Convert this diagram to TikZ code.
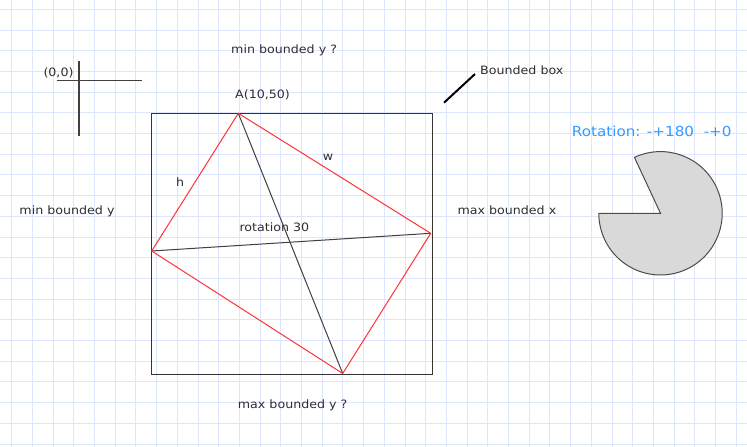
\documentclass[tikz,border=0pt]{standalone}
\usepackage{fontspec}
\setmainfont{DejaVu Sans}[FakeStretch=1.1]
\begin{document}
\begin{tikzpicture}[x=1pt,y=1pt,
  gridline/.style={draw={rgb,255:red,222;green,230;blue,255},line width=0.9pt},
  txt/.style={anchor=base west,inner sep=0pt,text=black!82,font=\fontsize{11.5}{13}\selectfont},
  bluetxt/.style={anchor=base west,inner sep=0pt,text={rgb,255:red,51;green,153;blue,255},font=\fontsize{13.8}{16}\selectfont},
  boxline/.style={draw=black!80,line width=1pt},
  redline/.style={draw={rgb,255:red,255;green,51;blue,51},line width=1pt},
  diagline/.style={draw=black!75,line width=1pt},
  axisline/.style={draw=black!75,line width=1.2pt},
  pacman/.style={draw=black!70,fill=black!15,line width=1pt}]
\useasboundingbox (0,0) rectangle (747,-447);
\fill[white] (0,0) rectangle (747,-447);
% grid
\foreach \i in {0,...,35} {\path[gridline] (11.7+20.7*\i,0) -- (11.7+20.7*\i,-447);}
\foreach \j in {0,...,21} {\path[gridline] (0,-9.3-20.7*\j) -- (747,-9.3-20.7*\j);}
% origin axes
\coordinate (vt) at (79,-61);
\coordinate (vb) at (79,-136);
\coordinate (hl) at (56.7,-80.7);
\coordinate (hr) at (141.7,-80.7);
\path[axisline] (vt) -- (vb);
\path[axisline] (hl) -- (hr);
% bounding rectangle
\coordinate (r1) at (151.5,-113.5);
\coordinate (r2) at (432.5,-374.5);
\path[boxline] (r1) rectangle (r2);
% rotated quad vertices
\coordinate (A) at (238.3,-113.3);
\coordinate (B) at (430.7,-233.3);
\coordinate (C) at (342.7,-373.5);
\coordinate (D) at (151.7,-251);
\path[diagline] (A) -- (C);
\path[diagline] (D) -- (B);
\path[redline] (A) -- (B) -- (C) -- (D) -- cycle;
% pointer for bounded box
\coordinate (p1) at (444,-102.7);
\coordinate (p2) at (475,-74);
\draw[black,line width=2pt] (p1) -- (p2);
% pacman
\coordinate (pc) at (660.5,-213.3);
\path[pacman] (pc) -- ++(115:61.7) arc[start angle=115,end angle=-180,radius=61.7] -- cycle;
% texts
\node[txt] (o) at (43.3,-76.7) {(0,0)};
\node[txt] (miny2) at (231,-53.3) {min bounded y ?};
\node[txt] (alab) at (235,-98.3) {A(10,50)};
\node[txt] (bbox) at (480,-74) {Bounded box};
\node[txt] (miny) at (19.3,-214.3) {min bounded y};
\node[txt] (maxx) at (457.3,-214.3) {max bounded x};
\node[txt] (h) at (176,-186.7) {h};
\node[txt] (w) at (322.7,-160) {w};
\node[txt] (rot) at (239.3,-231) {rotation 30};
\node[txt] (maxy) at (237.7,-408.3) {max bounded y ?};
\node[bluetxt] (rotlab) at (571.7,-136.3) {Rotation: -+180\ \ -+0};
\end{tikzpicture}
\end{document}
